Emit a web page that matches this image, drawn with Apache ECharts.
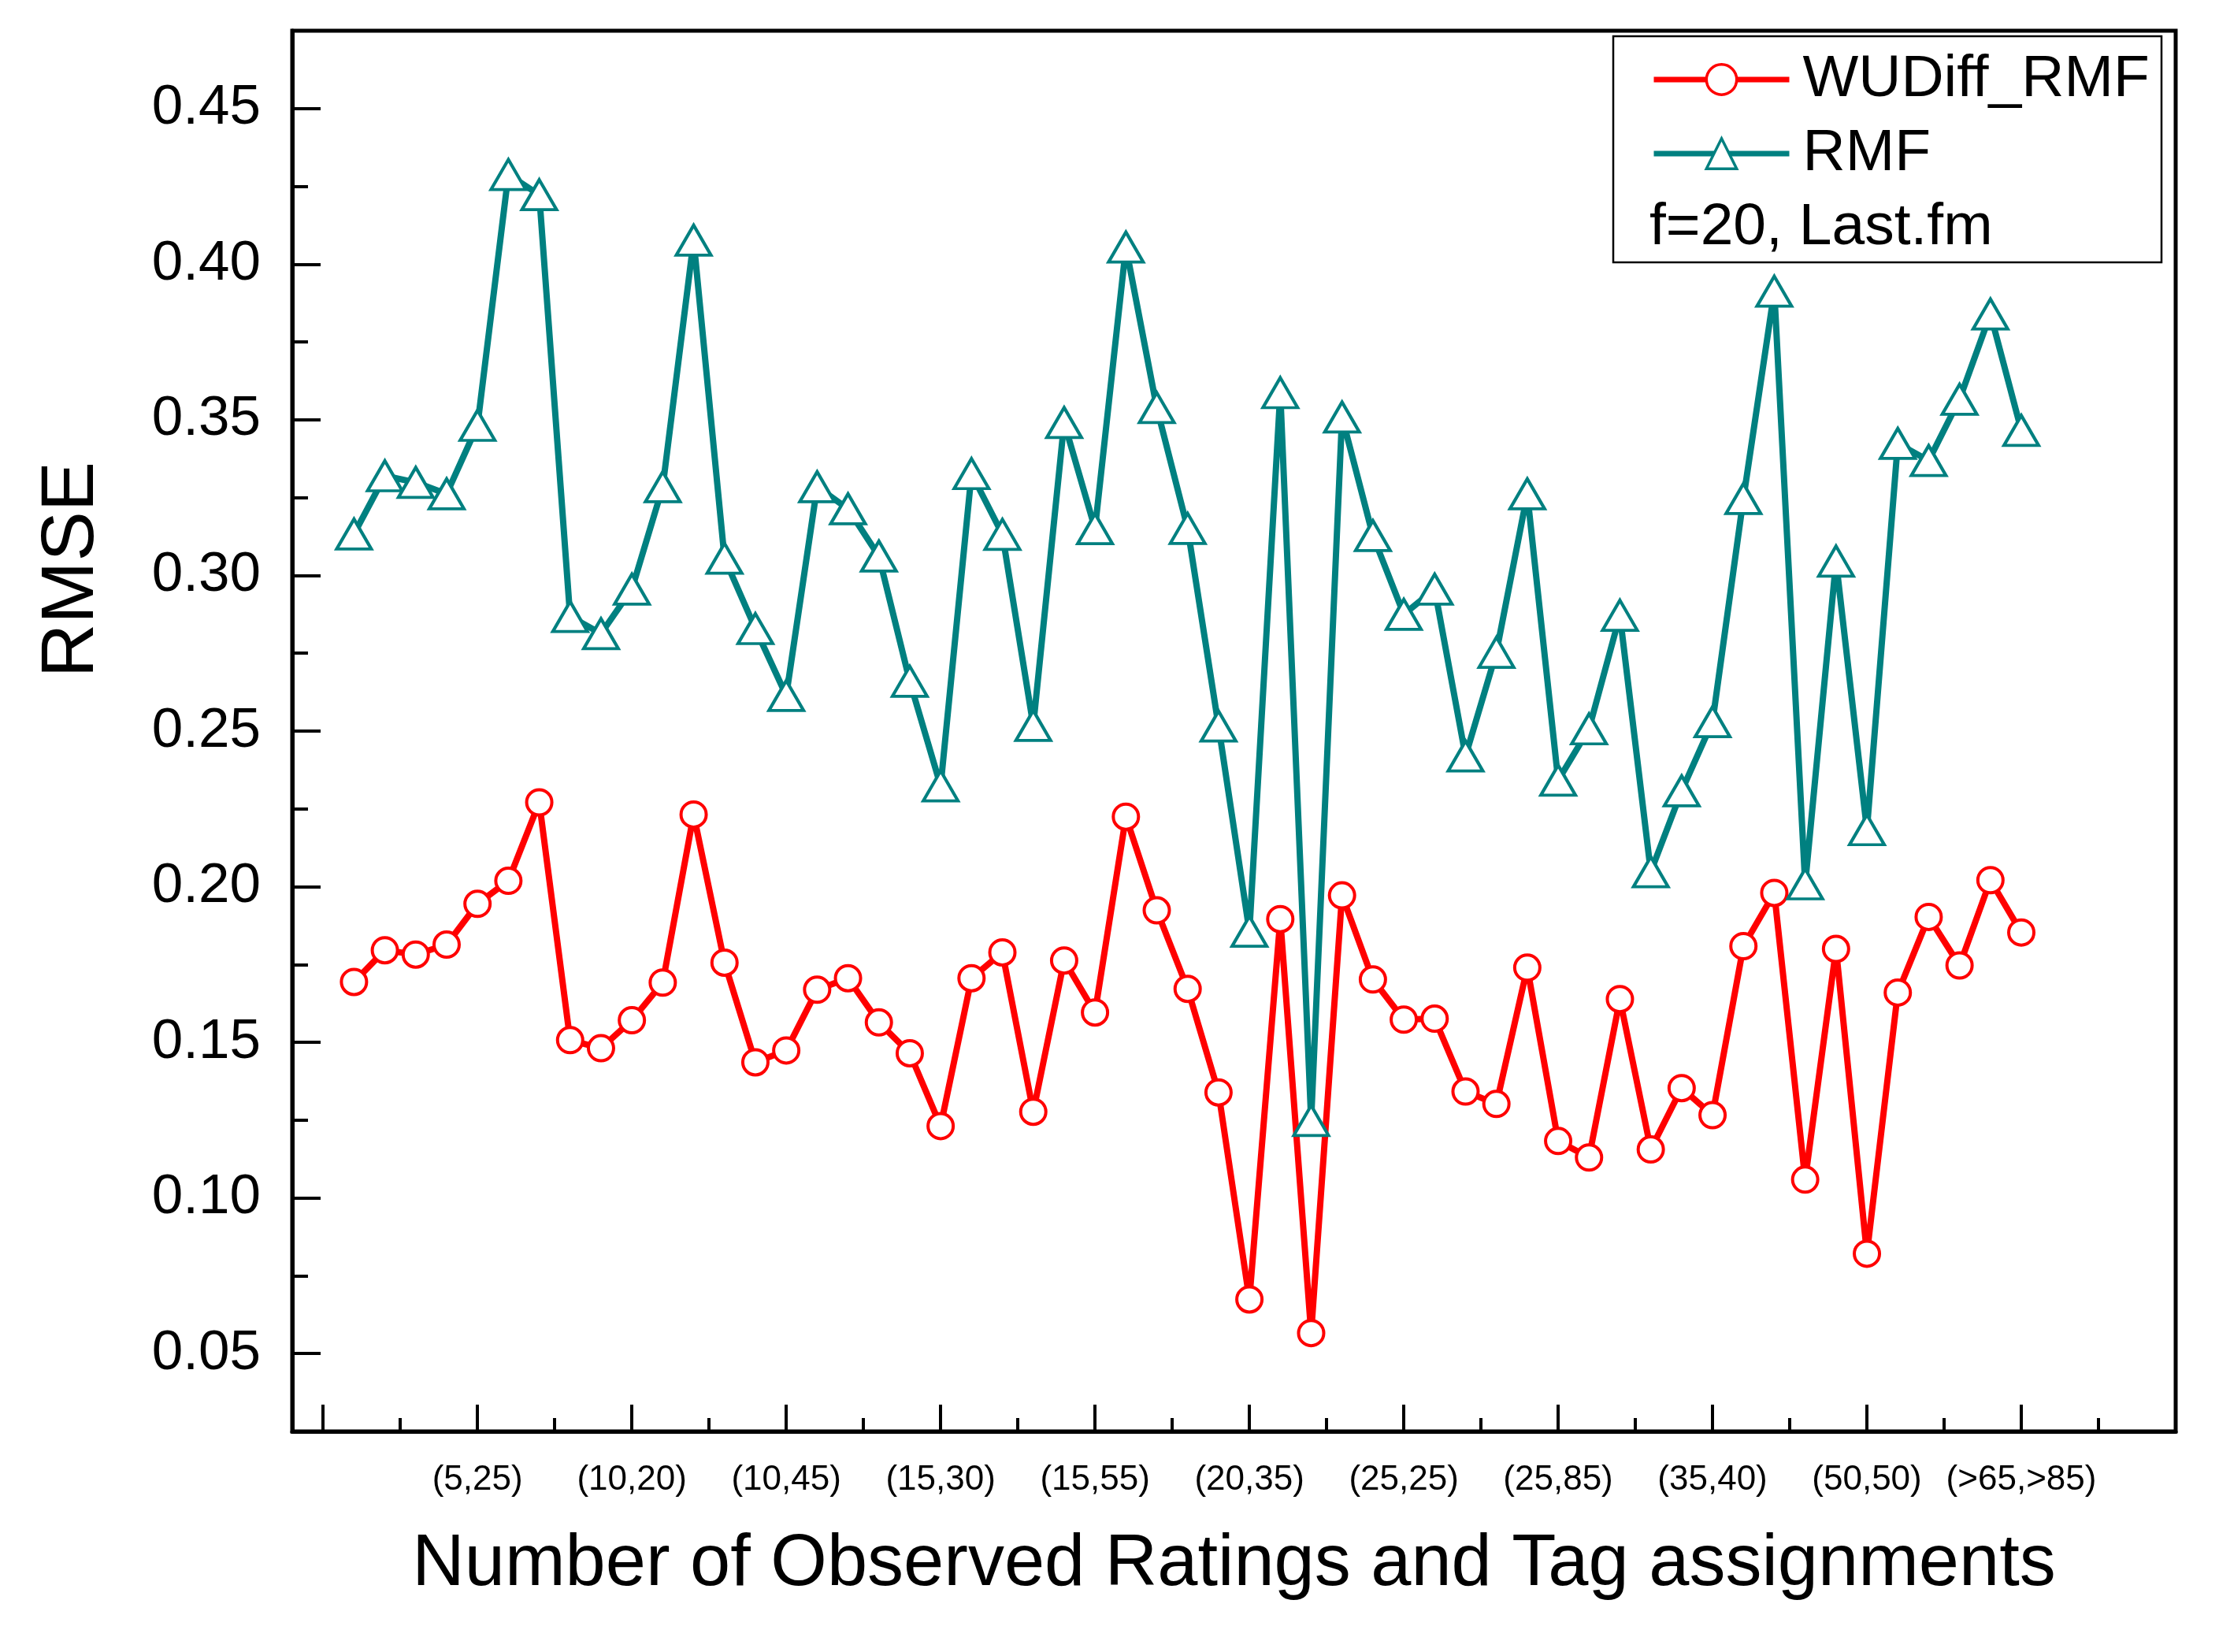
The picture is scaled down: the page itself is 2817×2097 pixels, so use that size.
<!DOCTYPE html>
<html>
<head>
<meta charset="utf-8">
<script src="https://cdn.jsdelivr.net/npm/echarts@6/dist/echarts.min.js"></script>
<style>
  html, body { margin: 0; padding: 0; background: #fff; }
  #chart { width: 2817px; height: 2097px; }
</style>
</head>
<body>
<div id="chart"></div>
<script>
// values, one per observed-count bucket (55 buckets)
var wudiff = [
  0.1694, 0.1796, 0.1782, 0.1814, 0.1945, 0.2019, 0.2271, 0.1507, 0.1481, 0.1571,
  0.1692, 0.2232, 0.1756, 0.1436, 0.1474, 0.1669, 0.1706, 0.1564, 0.1465, 0.1231,
  0.1706, 0.1789, 0.1277, 0.1763, 0.1596, 0.2225, 0.1924, 0.1672, 0.1339, 0.0674,
  0.1896, 0.0566, 0.1972, 0.1702, 0.1573, 0.1576, 0.1342, 0.1302, 0.1740, 0.1183,
  0.1130, 0.1639, 0.1156, 0.1353, 0.1266, 0.1809, 0.1980, 0.1059, 0.1800, 0.0821,
  0.1660, 0.1903, 0.1747, 0.2021, 0.1853
];
var rmf = [
  0.3133, 0.3320, 0.3299, 0.3262, 0.3482, 0.4288, 0.4223, 0.2868, 0.2813, 0.2956,
  0.3285, 0.4077, 0.3055, 0.2829, 0.2614, 0.3285, 0.3214, 0.3062, 0.2660, 0.2324,
  0.3327, 0.3132, 0.2518, 0.3491, 0.3150, 0.4055, 0.3539, 0.3151, 0.2516, 0.1857,
  0.3587, 0.1249, 0.3509, 0.3128, 0.2875, 0.2956, 0.2420, 0.2753, 0.3262, 0.2342,
  0.2507, 0.2872, 0.2048, 0.2308, 0.2530, 0.3247, 0.3913, 0.2009, 0.3046, 0.2183,
  0.3424, 0.3369, 0.3566, 0.3840, 0.3466
];
var tickLabels = ['(5,25)', '(10,20)', '(10,45)', '(15,30)', '(15,55)', '(20,35)',
  '(25,25)', '(25,85)', '(35,40)', '(50,50)', '(>65,>85)'];
var yMajor = [0.05, 0.10, 0.15, 0.20, 0.25, 0.30, 0.35, 0.40, 0.45];
var yMinor = [0.075, 0.125, 0.175, 0.225, 0.275, 0.325, 0.375, 0.425];

// labelled buckets sit every 5th point, starting at the 5th
var labelPos = tickLabels.map(function (t, i) { return 4 + 5 * i; });
var xMajor = [-1].concat(labelPos);
var xMinor = xMajor.map(function (v) { return v + 2.5; });

var FONT = 'Liberation Sans, Arial, sans-serif';

var chart = echarts.init(document.getElementById('chart'));

var option = {
  animation: false,
  backgroundColor: '#fff',
  grid: {
    left: 371, right: 55, top: 39, bottom: 280,
    show: true, borderColor: '#000', borderWidth: 5
  },
  legend: {
    orient: 'vertical',
    left: 2091, top: 56,
    itemWidth: 172, itemHeight: 48, itemGap: 14,
    data: ['WUDiff_RMF', 'RMF'],
    lineStyle: { width: 7 },
    itemStyle: { borderWidth: 3.5 },
    textStyle: { fontFamily: FONT, fontSize: 75, color: '#000', lineHeight: 80, padding: [0, 0, 0, 12] }
  },
  graphic: [
    {
      type: 'rect',
      shape: { x: 2048, y: 46, width: 696, height: 287 },
      style: { fill: 'none', stroke: '#000', lineWidth: 2.5 },
      z: 10
    },
    {
      type: 'text',
      left: 2094, top: 252,
      style: { text: 'f=20, Last.fm', font: '75px ' + FONT, fill: '#000' },
      z: 10
    }
  ],
  xAxis: [
    {
      type: 'value', min: -2, max: 59,
      name: 'Number of Observed Ratings and Tag assignments',
      nameLocation: 'middle', nameGap: 124,
      nameTextStyle: { fontFamily: FONT, fontSize: 92, color: '#000' },
      axisLine: { show: true, onZero: false, lineStyle: { color: '#000', width: 5 } },
      axisTick: { show: true, inside: true, length: 34, customValues: xMajor, lineStyle: { color: '#000', width: 4 } },
      axisLabel: {
        show: true, margin: 40, customValues: labelPos,
        fontFamily: FONT, fontSize: 44, color: '#000',
        formatter: function (v) { return tickLabels[Math.round((v - 4) / 5)] || ''; }
      },
      splitLine: { show: false }
    },
    {
      type: 'value', min: -2, max: 59, position: 'bottom',
      axisLine: { show: false, onZero: false },
      axisTick: { show: true, inside: true, length: 17, customValues: xMinor, lineStyle: { color: '#000', width: 4 } },
      axisLabel: { show: false },
      splitLine: { show: false }
    }
  ],
  yAxis: [
    {
      type: 'value', min: 0.025, max: 0.475,
      name: 'RMSE', nameLocation: 'middle', nameGap: 232, nameRotate: 90,
      nameTextStyle: { fontFamily: FONT, fontSize: 95, color: '#000', padding: [0, 0, 0, 410] },
      axisLine: { show: true, onZero: false, lineStyle: { color: '#000', width: 5 } },
      axisTick: { show: true, inside: true, length: 36, customValues: yMajor, lineStyle: { color: '#000', width: 4 } },
      axisLabel: {
        show: true, margin: 40, customValues: yMajor,
        fontFamily: FONT, fontSize: 71, color: '#000',
        formatter: function (v) { return v.toFixed(2); }
      },
      splitLine: { show: false }
    },
    {
      type: 'value', min: 0.025, max: 0.475, position: 'left',
      axisLine: { show: false, onZero: false },
      axisTick: { show: true, inside: true, length: 20, customValues: yMinor, lineStyle: { color: '#000', width: 4 } },
      axisLabel: { show: false },
      splitLine: { show: false }
    }
  ],
  series: [
    {
      name: 'WUDiff_RMF',
      type: 'line',
      data: wudiff.map(function (v, i) { return [i, v]; }),
      symbol: 'circle', symbolSize: 32,
      showAllSymbol: true,
      lineStyle: { color: '#ff0000', width: 8 },
      itemStyle: { color: '#fff', borderColor: '#ff0000', borderWidth: 4 }
    },
    {
      name: 'RMF',
      type: 'line',
      data: rmf.map(function (v, i) { return [i, v]; }),
      symbol: 'triangle', symbolSize: [44, 38],
      showAllSymbol: true,
      lineStyle: { color: '#008080', width: 8 },
      itemStyle: { color: '#fff', borderColor: '#008080', borderWidth: 4 }
    }
  ]
};

chart.setOption(option);
</script>
</body>
</html>
